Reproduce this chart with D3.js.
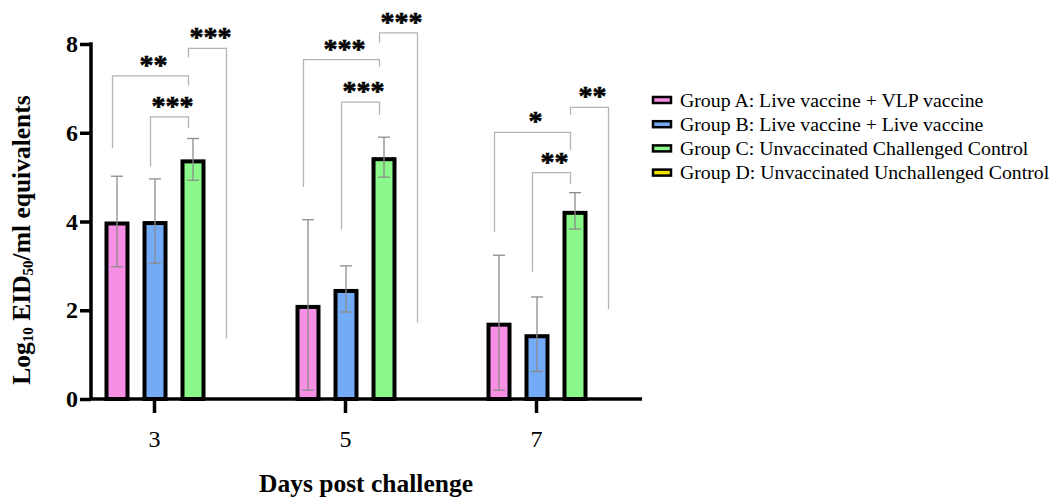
<!DOCTYPE html>
<html>
<head>
<meta charset="utf-8">
<script src="https://cdn.jsdelivr.net/npm/d3@7"></script>
<style>
  html, body { margin: 0; padding: 0; background: #fff; }
  svg { display: block; }
  text { font-family: "Liberation Serif", "Times New Roman", serif; fill: #000; }
</style>
</head>
<body>
<svg id="chart" width="1057" height="497"></svg>
<script>
// ---------------- data ----------------
const days = ["3", "5", "7"];
const groups = ["A", "B", "C", "D"];
const groupLabels = [
  "Group A: Live vaccine + VLP vaccine",
  "Group B: Live vaccine + Live vaccine",
  "Group C: Unvaccinated Challenged Control",
  "Group D: Unvaccinated Unchallenged Control"
];
const groupColors = ["#f78fe4", "#74abf6", "#8af98a", "#f2e400"];
// means and SD per day (3, 5, 7)
const meanA = [4.00, 2.12, 1.72];
const sdA   = [1.02, 1.92, 1.52];
const meanB = [4.01, 2.48, 1.46];
const sdB   = [0.95, 0.52, 0.84];
const meanC = [5.40, 5.45, 4.24];
const sdC   = [0.47, 0.45, 0.41];
const meanD = [null, null, null];   // no bars shown for group D
const sdD   = [null, null, null];
const yTicks = [0, 2, 4, 6, 8];
// significance brackets (values in y units)
const compDay   = ["3", "3", "3", "5", "5", "5", "7", "7", "7"];
const compFrom  = ["A", "B", "C", "A", "B", "C", "A", "B", "C"];
const compTo    = ["C", "C", "D", "C", "C", "D", "C", "C", "D"];
const compLabel = ["**", "***", "***", "***", "***", "***", "*", "**", "**"];
const compTop   = [7.28, 6.36, 7.90, 7.65, 6.69, 8.25, 6.01, 5.10, 6.57];
const compLeft  = [5.65, 5.24, 7.70, 4.78, 3.82, 8.03, 3.77, 2.87, 6.40];
const compRight = [7.06, 6.10, 1.37, 7.49, 6.40, 1.72, 5.61, 4.84, 2.02];

// ---------------- layout ----------------
const svg = d3.select("#chart");
const axisLeftX = 91, axisRightX = 642, yBottom = 399, yTop = 44;

const x = d3.scalePoint().domain(days).range([154, 536]);
const xg = d3.scalePoint().domain(groups).range([-38, 76]);
const y = d3.scaleLinear().domain([0, 8]).range([yBottom, yTop]);

const means = [meanA, meanB, meanC, meanD];
const sds = [sdA, sdB, sdC, sdD];
const barData = [];
groups.forEach((g, gi) => days.forEach((d, di) => {
  if (means[gi][di] != null) barData.push({ g, gi, d, m: means[gi][di], sd: sds[gi][di] });
}));

const barW = 25, sw = 4;
const cx = d => x(d.d) + xg(d.g) + 1;

// bars (border drawn inside the bar outline)
svg.append("g").selectAll("rect").data(barData).join("rect")
  .attr("x", d => cx(d) - barW / 2 + sw / 2)
  .attr("y", d => y(d.m) + sw / 2)
  .attr("width", barW - sw)
  .attr("height", d => y(0) - y(d.m) - sw / 2)
  .attr("fill", d => groupColors[d.gi])
  .attr("stroke", "#000")
  .attr("stroke-width", sw);

// error bars
const eb = svg.append("g").attr("stroke", "#8c8c8c").attr("stroke-width", 1.3).attr("fill", "none");
barData.forEach(d => {
  const x0 = cx(d);
  eb.append("line").attr("x1", x0).attr("x2", x0).attr("y1", y(d.m + d.sd)).attr("y2", y(d.m - d.sd));
  eb.append("line").attr("x1", x0 - 6).attr("x2", x0 + 6).attr("y1", y(d.m + d.sd)).attr("y2", y(d.m + d.sd));
  eb.append("line").attr("x1", x0 - 6).attr("x2", x0 + 6).attr("y1", y(d.m - d.sd)).attr("y2", y(d.m - d.sd));
});

// brackets
const br = svg.append("g");
compDay.forEach((d, i) => {
  const xl = x(d) + xg(compFrom[i]) - 3.5;
  const xr = x(d) + xg(compTo[i]) - 3.5;
  const yt = y(compTop[i]);
  br.append("path")
    .attr("d", `M${xl},${y(compLeft[i])}V${yt}H${xr}V${y(compRight[i])}`)
    .attr("fill", "none").attr("stroke", "#b4b4b4").attr("stroke-width", 1.3);
  br.append("text")
    .attr("x", (xl + xr) / 2 + 3)
    .attr("y", yt - 2)
    .attr("text-anchor", "middle")
    .attr("font-weight", "bold")
    .attr("font-size", 28)
    .attr("stroke", "#000").attr("stroke-width", 0.6)
    .text(compLabel[i]);
});

// y axis
const yAxis = d3.axisLeft(y).tickValues(yTicks).tickSize(11).tickPadding(2).tickFormat(d3.format("d"));
const gy = svg.append("g").attr("transform", `translate(${axisLeftX},0)`).call(yAxis);
gy.select(".domain").remove();
gy.selectAll(".tick line").attr("stroke", "#000").attr("stroke-width", 3.5);
gy.selectAll(".tick text").attr("font-family", "Liberation Serif").attr("font-weight", "bold")
  .attr("font-size", 24).attr("fill", "#000");
svg.append("line").attr("x1", axisLeftX).attr("x2", axisLeftX).attr("y1", yTop - 1.75).attr("y2", yBottom)
  .attr("stroke", "#000").attr("stroke-width", 3.5);

// x axis
const xAxis = d3.axisBottom(x).tickSize(14).tickPadding(17);
const gx = svg.append("g").attr("transform", `translate(0,${yBottom})`).call(xAxis);
gx.select(".domain").remove();
gx.selectAll(".tick line").attr("stroke", "#000").attr("stroke-width", 3.5);
gx.selectAll(".tick text").attr("font-family", "Liberation Serif").attr("font-size", 24).attr("fill", "#000");
svg.append("line").attr("x1", axisLeftX - 1.75).attr("x2", axisRightX).attr("y1", yBottom).attr("y2", yBottom)
  .attr("stroke", "#000").attr("stroke-width", 3.5);

// axis titles
svg.append("text")
  .attr("x", 366).attr("y", 492)
  .attr("text-anchor", "middle").attr("font-weight", "bold").attr("font-size", 25.5)
  .text("Days post challenge");

const yt = svg.append("text")
  .attr("transform", "translate(30,240) rotate(-90)")
  .attr("text-anchor", "middle").attr("font-weight", "bold").attr("font-size", 25.5);
yt.append("tspan").text("Log");
yt.append("tspan").attr("font-size", 15).attr("dy", 3).text("10");
yt.append("tspan").attr("dy", -3).text(" EID");
yt.append("tspan").attr("font-size", 15).attr("dy", 3).text("50");
yt.append("tspan").attr("dy", -3).text("/ml equivalents");

// legend
const lg = svg.append("g").attr("transform", "translate(652,100)");
groupLabels.forEach((t, i) => {
  const row = lg.append("g").attr("transform", `translate(0,${i * 24.2})`);
  row.append("rect").attr("x", 1).attr("y", -3).attr("width", 18).attr("height", 6)
    .attr("fill", groupColors[i]).attr("stroke", "#000").attr("stroke-width", 2.5);
  row.append("text").attr("x", 28).attr("y", 6.5).attr("font-size", 19.8).text(t);
});
</script>
</body>
</html>
